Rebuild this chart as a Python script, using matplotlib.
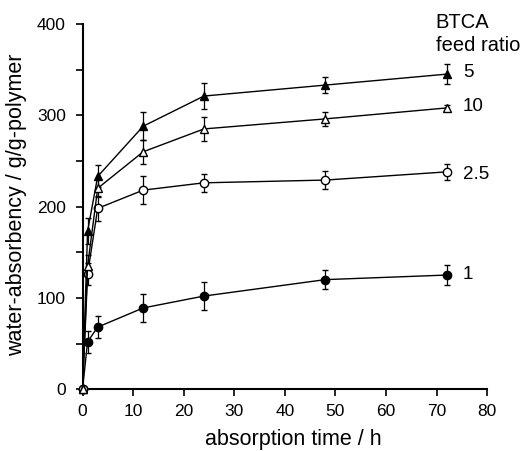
import matplotlib
matplotlib.use("Agg")
import matplotlib.pyplot as plt

plt.rcParams['font.family'] = ['Liberation Sans', 'DejaVu Sans']

# absorption time (h)
t = [0, 1, 3, 12, 24, 48, 72]

# water absorbency (g/g-polymer) per BTCA feed ratio
wa_5 = [0, 173, 233, 288, 321, 333, 345]
err_5 = [0, 14, 12, 15, 14, 9, 11]
wa_10 = [0, 135, 220, 260, 285, 296, 308]
err_10 = [0, 12, 10, 13, 13, 8, 3]
wa_25 = [0, 126, 198, 218, 226, 229, 238]
err_25 = [0, 12, 14, 15, 10, 10, 9]
wa_1 = [0, 52, 68, 89, 102, 120, 125]
err_1 = [0, 12, 12, 15, 15, 10, 11]

labels = ["5", "10", "2.5", "1"]
label_y = [347, 310, 235, 126]

fig = plt.figure(figsize=(5.29, 4.51), dpi=100)
ax = fig.add_axes([0.156, 0.137, 0.765, 0.810])

# drawn so the open triangles end up on top at the origin
series = [(wa_1, err_1, 'o', 'black'),
          (wa_25, err_25, 'o', 'white'),
          (wa_5, err_5, '^', 'black'),
          (wa_10, err_10, '^', 'white')]

for y, e, m, fc in series:
  cont = ax.errorbar(t, y, yerr=e, color='black', lw=1.0, marker=m, ms=6,
                     mfc=fc, mec='black', mew=1.0, capsize=2.5, elinewidth=0.9,
                     capthick=0.9, zorder=3)
  for art in cont.get_children():
    art.set_clip_on(False)

for lab, yy in zip(labels, label_y):
  ax.text(75.2, yy, lab, fontsize=13.5, va='center', ha='left', clip_on=False)

ax.text(69.8, 402, "BTCA", fontsize=14.5, va='center', ha='left', clip_on=False)
ax.text(69.8, 376, "feed ratio", fontsize=14.5, va='center', ha='left', clip_on=False)

ax.set_xlim(0, 80)
ax.set_ylim(0, 400)
ax.set_xticks(range(0, 81, 10))
ax.set_yticks(range(0, 401, 100))
ax.set_yticks(range(50, 400, 100), minor=True)
ax.tick_params(axis='both', labelsize=12.5, width=1.2, length=5, direction='out')
ax.tick_params(axis='x', pad=6)
ax.tick_params(axis='y', pad=7)
ax.tick_params(axis='y', which='minor', width=1.2, length=5)
ax.spines['top'].set_visible(False)
ax.spines['right'].set_visible(False)
ax.spines['left'].set_linewidth(1.5)
ax.spines['bottom'].set_linewidth(1.5)

ax.set_xlabel("absorption time / h", fontsize=15.5)
ax.set_ylabel("water-absorbency / g/g-polymer", fontsize=15.5)
ax.xaxis.set_label_coords(0.522, -0.109)
ax.yaxis.set_label_coords(-0.138, 0.505)

fig.savefig("out.png", dpi=100)
